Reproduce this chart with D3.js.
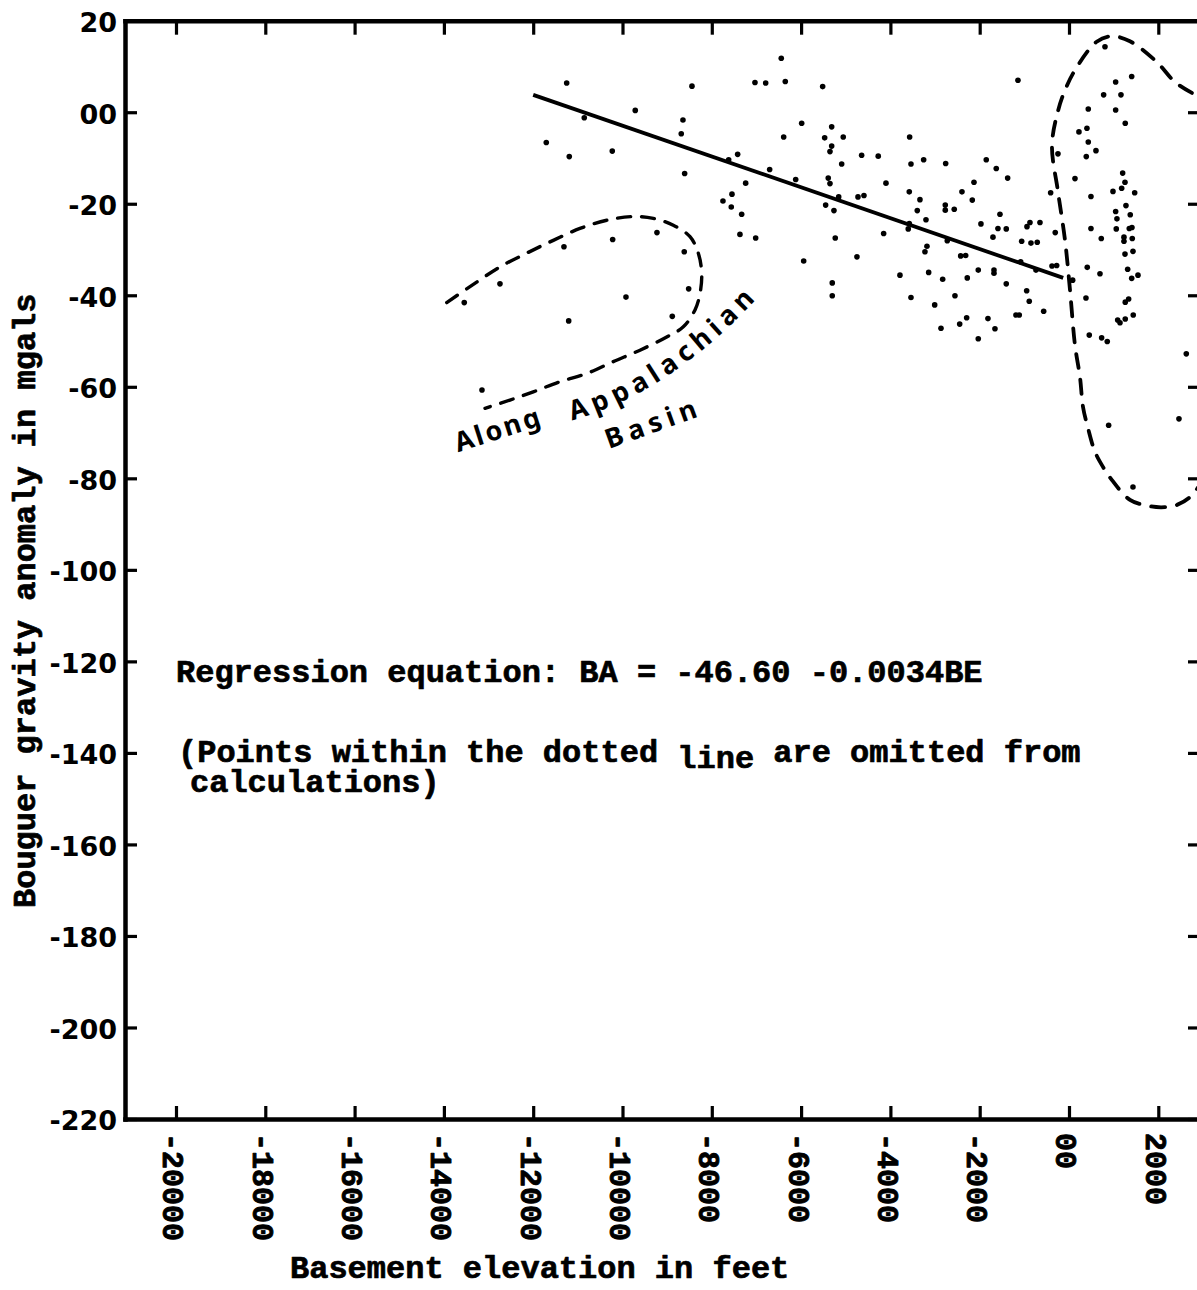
<!DOCTYPE html>
<html>
<head>
<meta charset="utf-8">
<script src="https://cdn.jsdelivr.net/npm/d3@7"></script>
<style>
  html, body { margin: 0; padding: 0; background: #fff; }
  svg { display: block; }
</style>
</head>
<body>
<svg id="chart" width="1197" height="1290"></svg>
<script>
// ---------- DATA ----------
const xTicks = [-20000, -18000, -16000, -14000, -12000, -10000, -8000, -6000, -4000, -2000, 0, 2000];
const xTickLabels = ["-20000", "-18000", "-16000", "-14000", "-12000", "-10000", "-8000", "-6000", "-4000", "-2000", "00", "2000"];
const yTicks = [20, 0, -20, -40, -60, -80, -100, -120, -140, -160, -180, -200, -220];
const yTickLabels = ["20", "00", "-20", "-40", "-60", "-80", "-100", "-120", "-140", "-160", "-180", "-200", "-220"];

// Basement elevation (ft) of each station
const basementElev = [
  -11250,-8444,-9714,-10856,-8646,-8684,-11707,-11192,-10229,-8608,
  -13544,-12744,-11311,-10220,-9228,-8617,-8518,-9922,-11205,-8885,-13147,
  -6444,-7033,-6793,-6354,-5517,-5987,-6390,-5315,-5472,-5056,
  -5315,-5353,-7421,-6704,-4644,-4272,-5091,-3569,-3539,-3255,
  -2762,-7241,-6121,-5392,-5353,-4099,-7548,-4726,-4592,-3577,
  -3338,-5158,-7750,-7622,
  -7564,-7331,-7369,-7017,-5942,-5235,-5450,-5264,-3398,-3203,
  -4151,-3600,-4749,-5302,-5302,-3181,-3226,-3786,-3143,-2829,
  -3539,-3008,-2867,-2771,-2771,-2726,-3577,
  -1143,806,1045,1404,776,1164,432,1045,1260,402,
  223,432,604,387,-1853,-1629,-1374,-2128,-2397,134,
  1202,1254,985,1180,1471,492,-411,-2166,
  -2570,-1546,-1972,-1591,-1405,-1703,-874,-941,-650,-1060,
  -852,-711,-308,1276,1045,1372,1074,492,1059,1350,
  1410,723,1231,1231,1417,1254,1433,-2426,-2314,-2278,
  -2032,-1680,-1680,-1405,-948,-890,-2554,-2292,-2448,-1815,
  -1658,-2032,-1188,-1114,-567,-381,-276,82,409,694,
  380,454,731,857,1314,1404,1545,1260,1336,1260,
  1142,1090,1439,2627,-1082,-740,
  888,2463,1433,-247
];
// Bouguer gravity anomaly (mgal) of each station
const bouguerAnomaly = [
  6.4,5.7,0.4,-1.2,-1.7,-4.7,-6.6,-9.7,-8.5,-13.4,
  -41.6,-37.5,-29.4,-27.8,-26.3,-30.5,-38.6,-40.4,-45.6,-44.6,-60.7,
  11.8,6.5,6.4,6.7,5.6,-2.4,-5.4,-3.2,-5.6,-5.4,
  -7.4,-8.6,-9.2,-12.5,-9.4,-9.6,-11.3,-5.4,-11.3,-10.4,
  -11.2,-15.5,-14.7,-14.4,-15.6,-15.5,-17.9,-18.5,-18.2,-17.4,
  -19.1,-18.5,-19.4,-10.4,
  -20.7,-22.3,-26.7,-27.5,-32.5,-27.5,-20.3,-21.5,-21.5,-23.5,
  -26.5,-25.5,-31.6,-37.3,-40.1,-29.3,-30.5,-35.6,-35.0,-36.5,
  -40.5,-42.1,-47.2,-20.3,-21.4,-28.1,-24.3,
  7.0,14.3,6.6,7.8,3.8,3.8,0.7,0.5,-2.4,-3.5,
  -4.3,-6.5,-8.4,-9.7,-10.4,-12.3,-14.4,-15.3,-17.4,-14.5,
  -13.3,-15.3,-17.3,-16.6,-17.6,-18.4,-17.6,-19.2,
  -21.2,-22.3,-24.4,-25.4,-25.5,-27.3,-24.1,-25.0,-24.1,-28.2,
  -28.6,-28.4,-26.3,-20.4,-21.7,-22.4,-23.3,-25.4,-25.5,-25.4,
  -25.2,-27.6,-27.3,-28.2,-27.6,-31.0,-30.4,-31.4,-31.3,-36.2,
  -34.5,-34.5,-35.2,-37.5,-39.0,-41.3,-40.1,-44.9,-46.3,-45.1,
  -47.3,-49.5,-44.3,-44.3,-43.5,-33.6,-33.5,-36.7,-33.9,-35.3,
  -40.6,-48.7,-49.3,-50.1,-34.3,-36.3,-35.6,-41.5,-40.8,-45.2,
  -46.0,-45.4,-44.3,-52.8,-32.7,-34.5,
  -68.4,-67.0,-81.9,-9.1
];

// Regression line (as drawn)
const regressionX = [-12000, -130];
const regressionY = [3.8, -36.2];

// Dotted outline: Appalachian Basin group
const appalachianX = [-13937,-13415,-12744,-12146,-11550,-10952,-10354,-9758,-9310,-8862,-8488,-8302,-8226,-8264,-8376,-8638,-9010,-9608,-10206,-10802,-11400,-11998,-12520,-13079];
const appalachianY = [-41.6,-38.1,-33.8,-30.8,-28.0,-25.4,-23.6,-22.8,-23.2,-24.7,-27.2,-30.8,-35.2,-39.6,-43.2,-46.9,-49.1,-52.0,-54.5,-57.1,-58.9,-61.1,-62.9,-64.7];

// Dotted outline: omitted points group (right)
const omittedX = [3270,2412,1964,1366,957,620,134,-90,-240,-381,-246,-90,22,134,246,314,425,582,761,963,1366,1814,2150,2419,2710,3158];
const omittedY = [1.6,6.3,11.0,15.5,16.6,15.4,9.2,4.8,0.5,-7.2,-17.4,-27.9,-38.8,-50.9,-57.9,-64.4,-69.0,-74.2,-77.5,-80.4,-84.7,-86.1,-86.3,-85.8,-84.1,-78.2];

(function () {
// ---------- DRAW ----------
const svg = d3.select("#chart");
const pL = 125, pR = 1205, pT = 20.7, pB = 1119;

const x = d3.scaleLinear().domain([-21142, 3046]).range([pL, pR]);
const y = d3.scaleLinear().domain([-220, 20]).range([pB, pT]);

const mono = "'Liberation Mono', 'Courier New', monospace";
const sans = "'DejaVu Sans', sans-serif";
const AX = 4.5;

function styleAxis(g) {
  g.select(".domain").attr("stroke", "#000").attr("stroke-width", AX).attr("stroke-linecap", "square");
  g.selectAll(".tick line").attr("stroke", "#000").attr("stroke-width", 3.2);
}
function heavy(sel, w) {
  sel.attr("stroke", "#000").attr("stroke-width", w).attr("stroke-linejoin", "round");
}

// left axis
const gl = svg.append("g").attr("transform", `translate(${pL},0)`)
  .call(d3.axisLeft(y).tickValues(yTicks).tickSize(-12).tickSizeOuter(0).tickPadding(8)
    .tickFormat((d, i) => yTickLabels[i]));
styleAxis(gl);
gl.selectAll("text").attr("font-family", sans).attr("font-weight", "bold")
  .attr("font-size", 27).attr("fill", "#000").attr("dy", "0.4em");

// right axis (mostly off-page)
const gr = svg.append("g").attr("transform", `translate(${pR},0)`)
  .call(d3.axisRight(y).tickValues(yTicks).tickSize(-17).tickSizeOuter(0).tickFormat(""));
styleAxis(gr);

// top axis
const gt = svg.append("g").attr("transform", `translate(0,${pT})`)
  .call(d3.axisTop(x).tickValues(xTicks).tickSize(-14).tickSizeOuter(0).tickFormat(""));
styleAxis(gt);

// bottom axis
const gb = svg.append("g").attr("transform", `translate(0,${pB})`)
  .call(d3.axisBottom(x).tickValues(xTicks).tickSize(-13).tickSizeOuter(0)
    .tickFormat((d, i) => xTickLabels[i]));
styleAxis(gb);
const xl = gb.selectAll("text")
  .attr("font-family", mono).attr("font-weight", "bold").attr("font-size", 30).attr("fill", "#000")
  .attr("transform", "rotate(90)")
  .attr("x", 14).attr("y", 13).attr("dy", 0)
  .attr("text-anchor", "start");
heavy(xl, 0.9);

// dotted outlines
const loopLine = d3.line().x(d => x(d[0])).y(d => y(d[1])).curve(d3.curveCatmullRom.alpha(0.5));
svg.append("path")
  .attr("d", loopLine(appalachianX.map((v, i) => [v, appalachianY[i]])))
  .attr("fill", "none").attr("stroke", "#000").attr("stroke-width", 3.4)
  .attr("stroke-dasharray", "13,11").attr("stroke-linecap", "round");
svg.append("path")
  .attr("d", loopLine(omittedX.map((v, i) => [v, omittedY[i]])))
  .attr("fill", "none").attr("stroke", "#000").attr("stroke-width", 3.8)
  .attr("stroke-dasharray", "14,12").attr("stroke-linecap", "round");

// regression line
svg.append("path")
  .attr("d", d3.line().x(d => x(d[0])).y(d => y(d[1]))(regressionX.map((v, i) => [v, regressionY[i]])))
  .attr("fill", "none").attr("stroke", "#000").attr("stroke-width", 3.8);

// points
svg.append("g").selectAll("circle")
  .data(basementElev.map((v, i) => [v, bouguerAnomaly[i]]))
  .join("circle")
  .attr("cx", d => x(d[0])).attr("cy", d => y(d[1])).attr("r", 2.8).attr("fill", "#000");

// annotations: Along Appalachian Basin
const hand = "'Noto Sans', 'DejaVu Sans', sans-serif";
const ax0 = [-13685, -74.3];
svg.append("text")
  .attr("transform", `translate(${x(ax0[0])},${y(ax0[1])}) rotate(-18)`)
  .attr("font-family", hand).attr("font-weight", "bold").attr("font-size", 27)
  .attr("letter-spacing", 2.5).attr("fill", "#000").text("Along");

const arcStart = [-11132, -67.3], arcCtrl = [-8960, -61.6], arcEnd = [-6900, -39.8];
svg.append("defs").append("path").attr("id", "appPath")
  .attr("d", `M${x(arcStart[0])},${y(arcStart[1])} Q${x(arcCtrl[0])},${y(arcCtrl[1])} ${x(arcEnd[0])},${y(arcEnd[1])}`);
svg.append("text")
  .attr("font-family", hand).attr("font-weight", "bold").attr("font-size", 27)
  .attr("letter-spacing", 5.6).attr("fill", "#000")
  .append("textPath").attr("href", "#appPath").text("Appalachian");

const bx0 = [-10300, -73.6];
svg.append("text")
  .attr("transform", `translate(${x(bx0[0])},${y(bx0[1])}) rotate(-20)`)
  .attr("font-family", hand).attr("font-weight", "bold").attr("font-size", 27)
  .attr("letter-spacing", 5.5).attr("fill", "#000").text("Basin");

// equation text
const txt = svg.append("g").attr("font-family", mono).attr("font-weight", "bold")
  .attr("font-size", 32).attr("fill", "#000");
heavy(txt, 0.7);
txt.append("text").attr("x", 176).attr("y", 682)
  .attr("xml:space", "preserve").text("Regression equation: BA = -46.60 -0.0034BE");
const t2 = txt.append("text").attr("x", 178).attr("y", 762).attr("xml:space", "preserve");
t2.append("tspan").text("(Points within the dotted ");
t2.append("tspan").attr("dy", 6).text("line");
t2.append("tspan").attr("dy", -6).text(" are omitted from");
t2.append("tspan").attr("x", 190).attr("dy", 30).text("calculations)");

// axis titles
const yt = svg.append("text")
  .attr("transform", "translate(35,908) rotate(-90)")
  .attr("font-family", mono).attr("font-weight", "bold").attr("font-size", 32).attr("fill", "#000")
  .text("Bouguer gravity anomaly in mgals");
heavy(yt, 0.7);
const xt = svg.append("text")
  .attr("x", 290).attr("y", 1278)
  .attr("font-family", mono).attr("font-weight", "bold").attr("font-size", 32).attr("fill", "#000")
  .text("Basement elevation in feet");
heavy(xt, 0.7);
})();
</script>
</body>
</html>
